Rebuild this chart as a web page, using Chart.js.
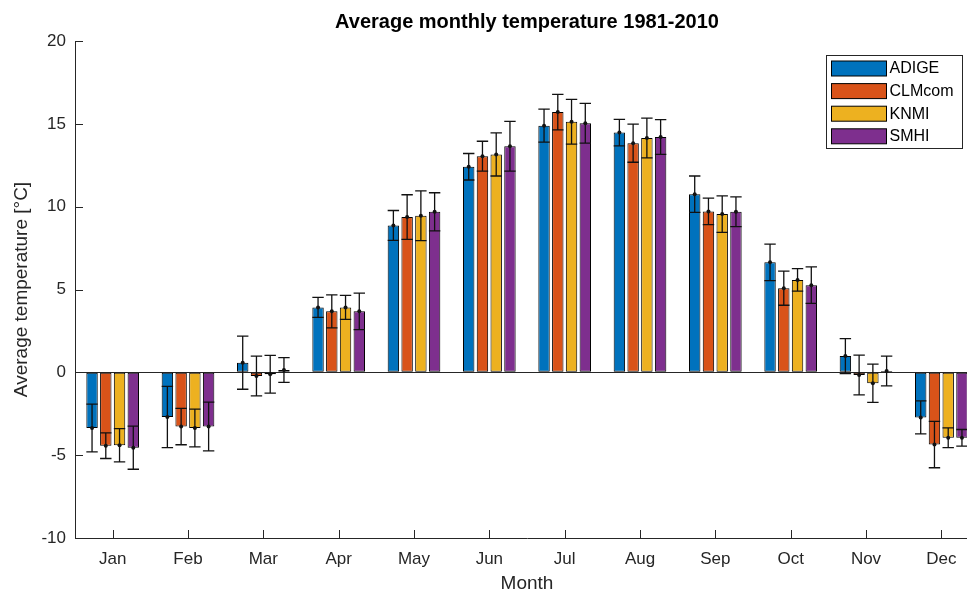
<!DOCTYPE html>
<html>
<head>
<meta charset="utf-8">
<script src="https://cdn.jsdelivr.net/npm/chart.js@4.4.1/dist/chart.umd.min.js"></script>
<style>
  html, body { margin: 0; padding: 0; background: #fff; overflow: hidden; }
  canvas { display: block; }
</style>
</head>
<body>
<canvas id="chartTemp" width="990" height="595"></canvas>
<script>
const months = ["Jan", "Feb", "Mar", "Apr", "May", "Jun", "Jul", "Aug", "Sep", "Oct", "Nov", "Dec"];
const seriesNames = ["ADIGE", "CLMcom", "KNMI", "SMHI"];

const adige  = [-3.36, -2.70, 0.58, 3.92, 8.87, 12.41, 14.89, 14.47, 10.75, 6.64, 0.98, -2.72];
const clmcom = [-4.43, -3.27, -0.22, 3.68, 9.37, 13.05, 15.71, 13.83, 9.71, 5.08, -0.16, -4.36];
const knmi   = [-4.40, -3.36, -0.12, 3.92, 9.45, 13.15, 15.13, 14.15, 9.55, 5.58, -0.66, -3.95];
const smhi   = [-4.55, -3.27, 0.14, 3.68, 9.69, 13.65, 15.03, 14.21, 9.69, 5.26, 0.08, -3.95];

// half-width of the error bars
const adigeErr  = [1.44, 1.85, 1.60, 0.60, 0.90, 0.80, 1.00, 0.80, 1.10, 1.10, 1.06, 1.00];
const clmcomErr = [0.77, 1.10, 1.20, 1.00, 1.35, 0.90, 1.07, 1.15, 0.80, 1.03, 1.20, 1.40];
const knmiErr   = [1.00, 1.14, 1.14, 0.72, 1.50, 1.30, 1.35, 1.20, 1.10, 0.68, 1.15, 0.60];
const smhiErr   = [1.30, 1.47, 0.75, 1.10, 1.15, 1.50, 1.20, 1.05, 0.90, 1.10, 0.90, 0.50];

const yTicks = [-10, -5, 0, 5, 10, 15, 20];

const colors = ["#0072BD", "#D95319", "#EDB120", "#7E2F8E"];
const errors = [adigeErr, clmcomErr, knmiErr, smhiErr];
const values = [adige, clmcom, knmi, smhi];

Chart.defaults.font.family = "'Liberation Sans', Arial, sans-serif";

const matlabLook = {
  id: "matlabLook",
  beforeDatasetsDraw(chart) {
    const ctx = chart.ctx;
    const a = chart.chartArea;
    const y = chart.scales.y;
    // zero baseline
    const y0 = Math.round(y.getPixelForValue(0)) + 0.5;
    ctx.save();
    ctx.strokeStyle = "#262626";
    ctx.lineWidth = 1;
    ctx.beginPath();
    ctx.moveTo(a.left, y0);
    ctx.lineTo(a.right, y0);
    ctx.stroke();
    ctx.restore();
  },
  afterDatasetsDraw(chart) {
    const ctx = chart.ctx;
    const y = chart.scales.y;
    ctx.save();
    ctx.strokeStyle = "#111";
    ctx.fillStyle = "#111";
    ctx.lineWidth = 1.3;
    chart.data.datasets.forEach((ds, i) => {
      const meta = chart.getDatasetMeta(i);
      meta.data.forEach((bar, j) => {
        const v = values[i][j];
        const e = errors[i][j];
        const yt = y.getPixelForValue(v + e);
        const yb = y.getPixelForValue(v - e);
        const cap = bar.width * 0.5;
        ctx.beginPath();
        ctx.moveTo(bar.x, yt);
        ctx.lineTo(bar.x, yb);
        ctx.moveTo(bar.x - cap, yt);
        ctx.lineTo(bar.x + cap, yt);
        ctx.moveTo(bar.x - cap, yb);
        ctx.lineTo(bar.x + cap, yb);
        ctx.stroke();
        ctx.beginPath();
        ctx.arc(bar.x, y.getPixelForValue(v), 2, 0, Math.PI * 2);
        ctx.fill();
      });
    });
    ctx.restore();
  },
  afterDraw(chart) {
    const ctx = chart.ctx;
    const a = chart.chartArea;
    const x = chart.scales.x;
    const y = chart.scales.y;
    ctx.save();
    // inward ticks
    ctx.strokeStyle = "#262626";
    ctx.lineWidth = 1;
    ctx.beginPath();
    yTicks.forEach(t => {
      const py = Math.round(y.getPixelForValue(t)) + 0.5;
      ctx.moveTo(a.left, py);
      ctx.lineTo(a.left + 8, py);
    });
    months.forEach((m, i) => {
      const px = Math.round(x.getPixelForValue(i)) + 0.5;
      ctx.moveTo(px, a.bottom);
      ctx.lineTo(px, a.bottom - 8);
    });
    ctx.stroke();

    // title
    ctx.fillStyle = "#000";
    ctx.font = "bold 20px 'Liberation Sans', Arial, sans-serif";
    ctx.textAlign = "center";
    ctx.textBaseline = "middle";
    ctx.fillText("Average monthly temperature 1981-2010", (a.left + a.right) / 2, 22);

    // legend
    const bx = a.right - 152.5, by = a.top + 14.5, bw = 136, bh = 93;
    ctx.fillStyle = "#fff";
    ctx.fillRect(bx, by, bw, bh);
    ctx.strokeStyle = "#262626";
    ctx.strokeRect(bx, by, bw, bh);
    ctx.font = "16px 'Liberation Sans', Arial, sans-serif";
    ctx.textAlign = "left";
    seriesNames.forEach((name, i) => {
      const ry = by + 5.5 + i * 22.6;
      ctx.fillStyle = colors[i];
      ctx.fillRect(bx + 5, ry, 55, 15);
      ctx.strokeStyle = "#000";
      ctx.strokeRect(bx + 5, ry, 55, 15);
      ctx.fillStyle = "#000";
      ctx.fillText(name, bx + 63, ry + 8);
    });
    ctx.restore();
  }
};

const chart = new Chart("chartTemp", {
  type: "bar",
  data: {
    labels: months,
    datasets: seriesNames.map((name, i) => ({
      label: name,
      data: values[i],
      backgroundColor: colors[i],
      borderColor: "#000",
      borderWidth: 1,
      borderSkipped: false,
      categoryPercentage: 0.73,
      barPercentage: 0.83,
    })),
  },
  options: {
    responsive: false,
    animation: false,
    layout: {
      padding: { left: 0, right: 11, top: 41, bottom: 0 },
    },
    plugins: {
      legend: { display: false },
      title: { display: false },
      tooltip: { enabled: false },
    },
    scales: {
      x: {
        grid: { display: true, drawOnChartArea: false, drawTicks: false },
        border: { display: true, color: "#262626", width: 1 },
        ticks: { color: "#262626", font: { size: 17 }, padding: 11 },
        title: {
          display: true,
          text: "Month",
          color: "#262626",
          font: { size: 19 },
          padding: { top: 0, bottom: 0 },
        },
        afterFit(scale) {
          scale.height = 57;
        },
      },
      y: {
        min: -10,
        max: 20,
        grid: { display: true, drawOnChartArea: false, drawTicks: false },
        border: { display: true, color: "#262626", width: 1 },
        ticks: { stepSize: 5, color: "#262626", font: { size: 17 }, padding: 9 },
        title: {
          display: true,
          text: "Average temperature [°C]",
          color: "#262626",
          font: { size: 19 },
          padding: { top: 10, bottom: 0 },
        },
        afterFit(scale) {
          scale.width = 75;
        },
      },
    },
  },
  plugins: [matlabLook],
});
</script>
</body>
</html>
